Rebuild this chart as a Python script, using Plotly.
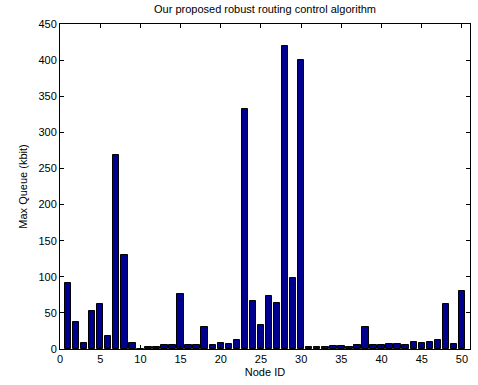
import plotly.graph_objects as go

node_ids = list(range(1, 51))
max_queue = [92, 38, 9, 52, 63, 18, 269, 130, 8, 0.5,
             3, 3, 5, 5, 76, 5, 6, 31, 5, 8,
             7, 13, 333, 67, 33, 74, 64, 420, 99, 400,
             2.5, 2.5, 2.5, 3.5, 3.5, 3, 5, 31, 5, 5,
             7, 7, 5, 9.5, 8, 9.5, 12, 63, 7, 81]
x_ticks = list(range(0, 51, 5))
y_ticks = list(range(0, 451, 50))

font = "Liberation Sans, Arial, sans-serif"

fig = go.Figure(go.Bar(
    x=node_ids, y=max_queue, width=0.8,
    marker=dict(color="#00008F", line=dict(color="#000000", width=1)),
))

fig.update_layout(
    width=478, height=385,
    margin=dict(l=60, r=8, t=24, b=36),
    paper_bgcolor="white", plot_bgcolor="white",
    showlegend=False,
    font=dict(family=font, size=11, color="black"),
    title=dict(text="Our proposed robust routing control algorithm",
               x=0.5, xanchor="center", xref="paper", y=0.975, yanchor="middle",
               font=dict(family=font, size=11, color="black")),
    bargap=0,
)
fig.update_xaxes(
    range=[0, 51], tickvals=x_ticks, ticks="inside", ticklen=4, tickcolor="black",
    showline=True, linecolor="black", linewidth=1, mirror="ticks",
    showgrid=False, zeroline=False,
    title=dict(text="Node ID", standoff=4, font=dict(family=font, size=11)),
)
fig.update_yaxes(
    range=[0, 450], tickvals=y_ticks, ticks="inside", ticklen=4, tickcolor="black",
    showline=True, linecolor="black", linewidth=1, mirror="ticks",
    showgrid=False, zeroline=False,
    title=dict(text="Max Queue (kbit)", standoff=8, font=dict(family=font, size=11)),
)

fig.write_html("out.html")
